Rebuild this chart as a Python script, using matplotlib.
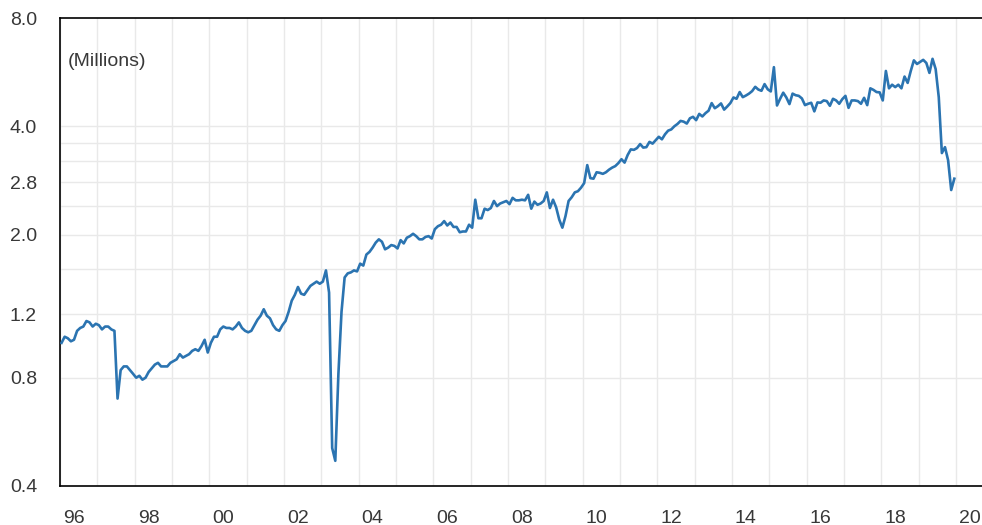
import numpy as np
import matplotlib
matplotlib.use("Agg")
import matplotlib.pyplot as plt
from matplotlib.ticker import FixedLocator, NullFormatter, FixedFormatter
import matplotlib.transforms as mtransforms

plt.rcParams['font.family'] = ['Liberation Sans', 'DejaVu Sans']

# Monthly values (millions), Jan 1996 - Dec 2019
v1996 = [1.00, 1.04, 1.03, 1.01, 1.02, 1.08, 1.10, 1.11, 1.15, 1.14, 1.11, 1.13]
v1997 = [1.12, 1.09, 1.11, 1.11, 1.09, 1.08, 0.70, 0.84, 0.86, 0.86, 0.84, 0.82]
v1998 = [0.80, 0.81, 0.79, 0.80, 0.83, 0.85, 0.87, 0.88, 0.86, 0.86, 0.86, 0.88]
v1999 = [0.89, 0.90, 0.93, 0.91, 0.92, 0.93, 0.95, 0.96, 0.95, 0.98, 1.02, 0.94]
v2000 = [1.00, 1.04, 1.04, 1.09, 1.11, 1.10, 1.10, 1.09, 1.11, 1.14, 1.10, 1.08]
v2001 = [1.07, 1.08, 1.12, 1.16, 1.19, 1.24, 1.19, 1.17, 1.12, 1.09, 1.08, 1.12]
v2002 = [1.15, 1.22, 1.31, 1.36, 1.43, 1.37, 1.36, 1.40, 1.44, 1.46, 1.48, 1.46]
v2003 = [1.48, 1.59, 1.38, 0.51, 0.47, 0.82, 1.22, 1.52, 1.56, 1.57, 1.59, 1.58]
v2004 = [1.66, 1.64, 1.76, 1.79, 1.84, 1.90, 1.94, 1.91, 1.82, 1.84, 1.87, 1.86]
v2005 = [1.83, 1.93, 1.89, 1.96, 1.98, 2.01, 1.98, 1.94, 1.94, 1.97, 1.98, 1.95]
v2006 = [2.07, 2.11, 2.13, 2.18, 2.12, 2.16, 2.10, 2.10, 2.03, 2.04, 2.04, 2.13]
v2007 = [2.09, 2.50, 2.22, 2.22, 2.36, 2.34, 2.37, 2.48, 2.40, 2.44, 2.46, 2.48]
v2008 = [2.43, 2.53, 2.49, 2.49, 2.50, 2.49, 2.58, 2.36, 2.47, 2.42, 2.44, 2.48]
v2009 = [2.62, 2.37, 2.50, 2.38, 2.20, 2.09, 2.25, 2.48, 2.54, 2.62, 2.64, 2.70]
v2010 = [2.78, 3.12, 2.87, 2.86, 2.98, 2.97, 2.95, 2.98, 3.03, 3.07, 3.10, 3.16]
v2011 = [3.24, 3.17, 3.33, 3.45, 3.44, 3.48, 3.57, 3.49, 3.50, 3.62, 3.58, 3.66]
v2012 = [3.74, 3.68, 3.80, 3.89, 3.92, 4.00, 4.06, 4.14, 4.12, 4.07, 4.21, 4.25]
v2013 = [4.16, 4.33, 4.26, 4.35, 4.42, 4.64, 4.49, 4.55, 4.63, 4.45, 4.54, 4.64]
v2014 = [4.81, 4.77, 4.98, 4.82, 4.87, 4.93, 5.01, 5.15, 5.06, 5.02, 5.24, 5.07]
v2015 = [5.00, 5.84, 4.57, 4.77, 4.96, 4.81, 4.61, 4.93, 4.88, 4.86, 4.78, 4.58]
v2016 = [4.62, 4.65, 4.40, 4.66, 4.65, 4.72, 4.70, 4.56, 4.77, 4.72, 4.62, 4.76]
v2017 = [4.86, 4.50, 4.72, 4.72, 4.70, 4.62, 4.80, 4.58, 5.10, 5.05, 4.98, 4.97]
v2018 = [4.72, 5.70, 5.10, 5.22, 5.14, 5.22, 5.10, 5.50, 5.28, 5.70, 6.10, 5.96]
v2019 = [6.04, 6.12, 6.00, 5.63, 6.16, 5.77, 4.82, 3.37, 3.50, 3.22, 2.66, 2.86]

years = list(range(1996, 2020))
yearly = [v1996, v1997, v1998, v1999, v2000, v2001, v2002, v2003, v2004, v2005,
          v2006, v2007, v2008, v2009, v2010, v2011, v2012, v2013, v2014, v2015,
          v2016, v2017, v2018, v2019]

x_label_years = list(range(1996, 2021, 2))
x_labels = ["96", "98", "00", "02", "04", "06", "08", "10", "12", "14", "16", "18", "20"]
grid_years = list(range(1996, 2021))
y_tick_vals = [0.4, 0.8, 1.2, 2.0, 2.8, 4.0, 8.0]
y_tick_labels = ["0.4", "0.8", "1.2", "2.0", "2.8", "4.0", "8.0"]
y_grid_vals = [0.8, 1.2, 1.6, 2.0, 2.4, 2.8, 3.2, 3.6, 4.0]

# decimal-year positions for monthly observations (mid-month)
xs = []
vals = []
for yr, vv in zip(years, yearly):
    for m, v in enumerate(vv):
        xs.append(yr + (m + 0.5) / 12.0)
        vals.append(v)

fig = plt.figure(figsize=(9.82, 5.25), dpi=100)
ax = fig.add_axes([60 / 982, 39 / 525, 922 / 982, 468 / 525])

ax.plot(xs, vals, color='#2b74b1', lw=1.9, solid_joinstyle='round', zorder=3)

ax.set_yscale('log')
ax.set_ylim(0.4, 8.0)
ax.set_xlim(1996.0, 2020.70)

ax.xaxis.remove_overlapping_locs = False
ax.yaxis.remove_overlapping_locs = False

ax.yaxis.set_major_locator(FixedLocator(y_tick_vals))
ax.yaxis.set_major_formatter(FixedFormatter(y_tick_labels))
ax.yaxis.set_minor_locator(FixedLocator(y_grid_vals))
ax.yaxis.set_minor_formatter(NullFormatter())

ax.xaxis.set_major_locator(FixedLocator(x_label_years))
ax.xaxis.set_major_formatter(FixedFormatter(x_labels))
ax.xaxis.set_minor_locator(FixedLocator(grid_years))
ax.xaxis.set_minor_formatter(NullFormatter())

ax.grid(False, which='major')
ax.grid(True, which='minor', color='#e9e9e9', lw=1.0, zorder=0)
ax.set_axisbelow(True)

ax.tick_params(axis='both', which='both', length=0)
ax.tick_params(axis='y', which='major', labelsize=14, labelcolor='#383838', pad=16.5)
ax.tick_params(axis='x', which='major', labelsize=14, labelcolor='#383838', pad=17)

offset = mtransforms.ScaledTranslation(3 / 100, 0, fig.dpi_scale_trans)
for lbl in ax.get_xticklabels():
    lbl.set_horizontalalignment('left')
    lbl.set_transform(lbl.get_transform() + offset)

for side in ['left', 'bottom', 'top']:
    ax.spines[side].set_color('black')
    ax.spines[side].set_linewidth(1.2)
ax.spines['right'].set_visible(False)

ax.text(8 / 922, (486 - 61) / 468, "(Millions)", transform=ax.transAxes,
        ha='left', va='center', fontsize=14, color='#383838')

fig.savefig("out.png", dpi=100)
